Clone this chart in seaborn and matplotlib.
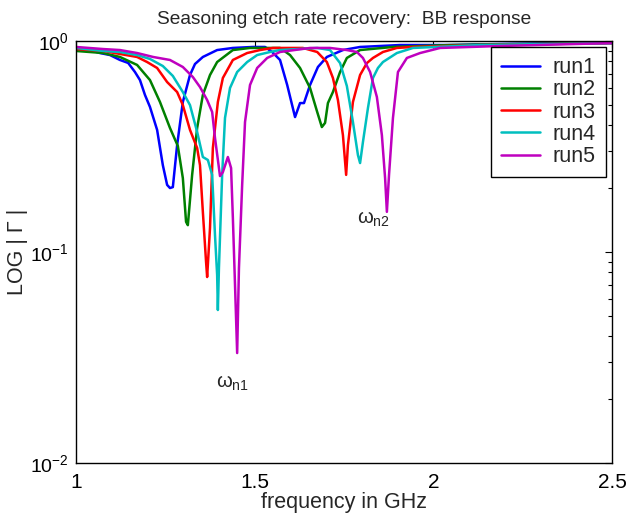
import numpy as np
import pandas as pd
import matplotlib
matplotlib.use("Agg")
import matplotlib.pyplot as plt
import seaborn as sns
from matplotlib.ticker import LogLocator, NullFormatter, FixedLocator

# ---- data (frequency in GHz, |Gamma|) ----
run1_f = [1.000, 1.039, 1.067, 1.095, 1.123, 1.146, 1.165, 1.179, 1.193, 1.207, 1.227, 1.243,
          1.255, 1.263, 1.271, 1.283, 1.299, 1.319, 1.333, 1.355, 1.395, 1.439, 1.495, 1.529,
          1.549, 1.571, 1.591, 1.613, 1.627, 1.638, 1.655, 1.677, 1.702, 1.747, 1.795, 1.907,
          2.047, 2.187, 2.355, 2.500]
run1_v = [0.906, 0.906, 0.877, 0.858, 0.813, 0.787, 0.713, 0.653, 0.555, 0.487, 0.379, 0.258,
          0.208, 0.201, 0.203, 0.321, 0.514, 0.690, 0.778, 0.840, 0.906, 0.927, 0.937, 0.937,
          0.887, 0.813, 0.619, 0.436, 0.508, 0.508, 0.619, 0.753, 0.840, 0.906, 0.937, 0.957,
          0.957, 0.968, 0.978, 0.978]

run2_f = [1.000, 1.076, 1.123, 1.171, 1.207, 1.235, 1.263, 1.285, 1.299, 1.308, 1.313, 1.325,
          1.339, 1.355, 1.375, 1.395, 1.439, 1.487, 1.543, 1.571, 1.599, 1.627, 1.655, 1.675,
          1.688, 1.697, 1.705, 1.719, 1.739, 1.758, 1.795, 1.887, 2.047, 2.243, 2.500]
run2_v = [0.897, 0.877, 0.840, 0.770, 0.653, 0.514, 0.387, 0.318, 0.224, 0.139, 0.134, 0.232,
          0.387, 0.555, 0.690, 0.795, 0.906, 0.927, 0.927, 0.927, 0.858, 0.745, 0.599, 0.461,
          0.391, 0.409, 0.508, 0.573, 0.713, 0.831, 0.906, 0.937, 0.957, 0.968, 0.978]

run3_f = [1.000, 1.076, 1.123, 1.171, 1.199, 1.227, 1.255, 1.283, 1.299, 1.319, 1.339, 1.347,
          1.355, 1.364, 1.367, 1.375, 1.383, 1.397, 1.411, 1.439, 1.479, 1.515, 1.551, 1.635,
          1.675, 1.702, 1.719, 1.733, 1.747, 1.756, 1.761, 1.775, 1.795, 1.814, 1.831, 1.859,
          1.898, 1.943, 2.131, 2.500]
run3_v = [0.916, 0.897, 0.868, 0.840, 0.795, 0.745, 0.639, 0.573, 0.497, 0.379, 0.311, 0.258,
          0.155, 0.0897, 0.0761, 0.130, 0.311, 0.514, 0.668, 0.813, 0.877, 0.906, 0.927, 0.927,
          0.887, 0.795, 0.668, 0.525, 0.358, 0.232, 0.321, 0.514, 0.690, 0.786, 0.831, 0.887,
          0.927, 0.937, 0.957, 0.978]

run4_f = [1.000, 1.076, 1.123, 1.171, 1.207, 1.243, 1.271, 1.299, 1.319, 1.339, 1.355, 1.369,
          1.381, 1.389, 1.395, 1.397, 1.400, 1.409, 1.417, 1.431, 1.451, 1.479, 1.507, 1.543,
          1.571, 1.675, 1.711, 1.739, 1.758, 1.775, 1.789, 1.795, 1.803, 1.817, 1.831, 1.845,
          1.859, 1.898, 1.943, 2.131, 2.500]
run4_v = [0.927, 0.897, 0.887, 0.858, 0.822, 0.761, 0.683, 0.573, 0.497, 0.371, 0.282, 0.273,
          0.232, 0.120, 0.0778, 0.0531, 0.0840, 0.232, 0.432, 0.599, 0.713, 0.795, 0.858, 0.887,
          0.906, 0.927, 0.906, 0.786, 0.612, 0.413, 0.288, 0.264, 0.332, 0.481, 0.668, 0.745,
          0.795, 0.877, 0.927, 0.957, 0.978]

run5_f = [1.000, 1.076, 1.123, 1.171, 1.216, 1.263, 1.299, 1.327, 1.347, 1.367, 1.381, 1.389,
          1.403, 1.411, 1.425, 1.434, 1.439, 1.445, 1.451, 1.456, 1.465, 1.473, 1.487, 1.507,
          1.535, 1.571, 1.655, 1.711, 1.758, 1.786, 1.803, 1.823, 1.842, 1.856, 1.865, 1.870,
          1.876, 1.887, 1.901, 1.926, 1.963, 2.019, 2.187, 2.500]
run5_v = [0.937, 0.916, 0.906, 0.877, 0.840, 0.813, 0.753, 0.675, 0.605, 0.525, 0.461, 0.347,
          0.229, 0.239, 0.282, 0.250, 0.145, 0.0698, 0.0332, 0.0838, 0.208, 0.413, 0.619, 0.745,
          0.831, 0.887, 0.927, 0.927, 0.906, 0.887, 0.831, 0.713, 0.543, 0.358, 0.224, 0.155,
          0.232, 0.432, 0.713, 0.831, 0.877, 0.927, 0.947, 0.978]

run_names = ["run1", "run2", "run3", "run4", "run5"]
run_colors = ["#0000ff", "#008000", "#ff0000", "#00bfbf", "#bf00bf"]
xtick_vals = [1, 1.5, 2, 2.5]
xtick_labels = ["1", "1.5", "2", "2.5"]
annot_labels = [r"$\mathrm{\omega}_{\mathrm{n1}}$", r"$\mathrm{\omega}_{\mathrm{n2}}$"]
annot_f = [1.439, 1.831]
annot_v = [0.0239, 0.143]

series = [(run1_f, run1_v), (run2_f, run2_v), (run3_f, run3_v), (run4_f, run4_v), (run5_f, run5_v)]
df = pd.concat([pd.DataFrame({"freq": f, "gamma": v, "run": n})
                for (f, v), n in zip(series, run_names)], ignore_index=True)

sns.set_style("white")
plt.rcParams["font.family"] = ["Liberation Sans", "DejaVu Sans"]
plt.rcParams["mathtext.fontset"] = "custom"
plt.rcParams["mathtext.rm"] = "Liberation Sans"
plt.rcParams["mathtext.it"] = "Liberation Sans"
plt.rcParams["mathtext.bf"] = "Liberation Sans:bold"

fig = plt.figure(figsize=(6.31, 5.21), dpi=100)
ax = fig.add_axes([76 / 631, 58 / 521, 536 / 631, 422 / 521])

sns.lineplot(data=df, x="freq", y="gamma", hue="run", palette=run_colors,
             estimator=None, sort=False, linewidth=1.8, ax=ax)

ax.set_yscale("log")
ax.set_xlim(1, 2.5)
ax.set_ylim(0.01, 1)
ax.xaxis.set_major_locator(FixedLocator(xtick_vals))
ax.set_xticklabels(xtick_labels)
ax.yaxis.set_major_locator(LogLocator(base=10, numticks=5))
ax.yaxis.set_minor_locator(LogLocator(base=10, subs=np.arange(2, 10), numticks=20))
ax.yaxis.set_minor_formatter(NullFormatter())
ax.tick_params(which="both", direction="in", top=True, right=True,
               colors="black", width=0.8)
ax.tick_params(axis="x", labelsize=15, pad=7)
ax.tick_params(axis="y", labelsize=14, pad=5)
ax.tick_params(which="major", length=5)
ax.tick_params(which="minor", length=3)
for s in ax.spines.values():
    s.set_color("black")
    s.set_linewidth(1.0)

ax.set_xlabel("frequency in GHz", fontsize=15.5, labelpad=0)
ax.set_ylabel("LOG | Γ |", fontsize=15.5, labelpad=2)
ax.set_title("Seasoning etch rate recovery:  BB response", fontsize=13.8, pad=12)

for lab, fx, vy in zip(annot_labels, annot_f, annot_v):
    ax.text(fx, vy, lab, fontsize=14.5, ha="center", va="center")

leg = ax.legend(loc="upper right", fontsize=15.5, frameon=True, fancybox=False,
                edgecolor="black", framealpha=1, handlelength=1.8, handletextpad=0.6,
                labelspacing=0.06, borderpad=0.45, borderaxespad=0.3)
leg.get_frame().set_linewidth(1.0)

fig.savefig("out.png", dpi=100)
